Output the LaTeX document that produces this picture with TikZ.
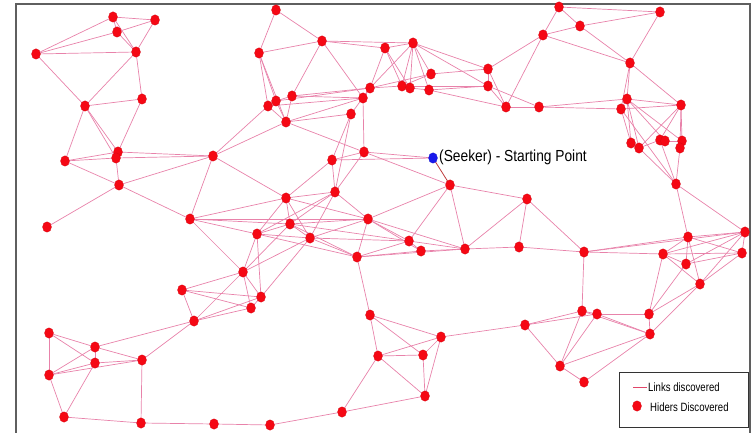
\documentclass[tikz,border=0pt]{standalone}
\usepackage{fontspec}
\newfontfamily\arialf{Liberation Sans}
\usetikzlibrary{shapes.geometric,backgrounds}
\definecolor{linkc}{RGB}{232,130,170}
\definecolor{hiderc}{RGB}{245,8,20}
\definecolor{seekc}{RGB}{25,25,235}
\definecolor{firstc}{RGB}{190,60,60}
\definecolor{legline}{RGB}{225,70,105}
\definecolor{framec}{RGB}{95,95,95}
\tikzset{
  hider/.style={ellipse,fill=hiderc,draw=hiderc!85!black,line width=0.2pt,minimum width=9pt,minimum height=10.5pt,inner sep=0pt},
  seeker/.style={ellipse,fill=seekc,draw=seekc!85!black,line width=0.2pt,minimum width=9pt,minimum height=10.5pt,inner sep=0pt},
  link/.style={draw=linkc,line width=0.7pt},
  firstlink/.style={draw=firstc,line width=0.8pt},
  legendtext/.style={anchor=west,inner sep=0pt,font=\arialf\fontsize{12}{14}\selectfont}
}
\begin{document}
\begin{tikzpicture}[x=1pt,y=-1pt]
\useasboundingbox (0,0) rectangle (753,433);
\coordinate (f1) at (16,433);
\coordinate (f2) at (16,4);
\coordinate (f3) at (750,4);
\coordinate (f4) at (750,433);
\draw[framec,line width=1.2pt] (f1) -- (f2) -- (f3) -- (f4);
\foreach \n/\x/\y in {1/113/17, 2/155/20, 3/117/32, 4/36/54, 5/136/52, 6/85/106, 7/142/99, 8/118/152, 9/116/158, 10/65/161, 11/119/185, 12/213/156, 13/47/227,
14/276/10, 15/322/41, 16/259/53, 17/385/48, 18/413/43, 19/431/74, 20/488/69, 21/488/86, 22/506/107, 23/370/88, 24/402/86, 25/410/88, 26/429/90, 27/292/96, 28/276/101, 29/268/106, 30/363/98, 31/351/114, 32/286/122, 33/364/152, 34/332/160, 35/450/185, 36/335/192, 37/286/198, 38/368/219,
39/559/7, 40/660/12, 41/580/26, 42/543/35, 43/630/63, 44/539/107, 45/627/99, 46/621/109, 47/681/105, 48/631/143, 49/639/148, 50/660/140, 51/665/141, 52/682/141, 53/680/148, 54/676/184, 55/527/199,
56/190/219, 57/290/224, 58/257/234, 59/310/238, 60/409/241, 61/421/251, 62/357/257, 63/465/249, 64/243/272, 65/182/290, 66/261/297, 67/251/308, 68/194/321,
69/519/247, 70/584/252, 71/688/237, 72/745/232, 73/663/254, 74/686/264, 75/742/253, 76/700/284,
77/370/315, 78/441/337, 79/378/356, 80/423/355, 81/425/396, 82/342/412, 83/270/425, 84/214/424, 85/141/423, 86/64/417, 87/49/333, 88/95/347, 89/95/363, 90/142/360, 91/49/375, 92/525/325, 93/582/311, 94/597/314, 95/649/314, 96/650/334, 97/560/366, 98/584/382}
  \node[hider] (n\n) at (\x,\y) {};
\node[seeker] (nS) at (433,158) {};
\node[anchor=west,inner sep=0pt,font=\arialf\fontsize{16}{18}\selectfont] (lbl) at (439,157.5) {\scalebox{0.86}[1]{(Seeker) - Starting Point}};
\begin{pgfonlayer}{background}
\foreach \a/\b in {1/2, 1/3, 1/4, 1/5, 2/3, 2/5, 3/4, 3/5, 4/5, 4/6, 5/6, 5/7, 6/7, 6/10, 6/8, 6/9, 7/8, 10/8, 10/9, 10/11, 8/12, 9/12, 9/11, 11/12, 11/56, 11/13, 12/56, 12/29, 12/32, 12/37, 8/9,
14/16, 14/15, 16/15, 15/17, 15/18, 15/27, 15/30, 16/29, 16/28, 16/32, 17/18, 17/23, 17/24, 17/25, 18/23, 18/24, 18/25, 18/26, 18/19, 18/20, 18/21, 19/23, 19/24, 19/20, 23/24, 24/25, 25/26, 26/21, 26/22, 24/21, 20/21, 20/22, 21/22, 23/27, 23/28, 30/29, 23/30, 23/31, 27/28, 28/29, 27/32, 28/32, 29/32, 27/30, 32/31, 32/30, 32/33, 31/34, 31/36, 30/33, 33/34, 34/S, 33/S, 33/35, 34/36, 34/37, 33/36, 35/38, 35/55, 35/63, 35/60,
39/40, 39/41, 39/42, 41/40, 41/43, 40/43, 42/43, 42/41, 42/20, 42/22, 22/44, 21/44, 44/45, 44/46, 45/47, 43/45, 43/46, 43/47, 45/46, 45/48, 45/49, 45/51, 45/52, 46/48, 46/47, 47/49, 47/50, 47/53, 47/52, 48/49, 49/50, 50/51, 51/52, 52/53, 49/54, 50/54, 53/54, 46/54, 54/71, 54/72, 55/63, 55/69, 55/70,
37/38, 37/56, 37/57, 37/58, 37/59, 36/57, 36/59, 36/38, 36/58, 36/37, 56/38, 56/57, 56/58, 56/64, 57/58, 57/59, 57/62, 57/60, 58/59, 58/62, 58/64, 58/66, 59/62, 59/60, 59/64, 59/66, 38/57, 38/59, 38/62, 38/60, 38/61, 38/63, 62/60, 62/61, 62/63, 60/61, 61/63, 60/63, 62/77, 63/69, 64/65, 64/66, 64/67, 64/68, 64/57, 65/66, 65/67, 65/68, 68/67, 68/66, 66/67, 68/88, 68/90,
69/70, 70/71, 70/72, 70/73, 70/93, 71/72, 71/73, 71/74, 71/75, 71/76, 72/73, 72/74, 72/75, 72/76, 73/74, 73/75, 73/76, 74/75, 75/76, 73/95, 74/95, 76/95, 76/96,
77/78, 77/79, 77/80, 79/80, 79/78, 78/80, 78/81, 80/81, 79/81, 79/82, 81/82, 82/83, 83/84, 84/85, 85/86, 78/92, 92/93, 92/94, 92/97, 93/94, 93/97, 94/97, 94/95, 94/96, 93/96, 95/96, 96/97, 96/98, 97/98, 87/88, 87/89, 87/91, 88/89, 88/90, 88/91, 89/90, 89/91, 91/90, 89/86, 91/86, 90/85}
  \draw[link] (n\a.center) -- (n\b.center);
\draw[firstlink] (nS.center) -- (n35.center);
\end{pgfonlayer}
% legend
\node[draw=black!80,line width=1pt,minimum width=129pt,minimum height=55pt,inner sep=0pt] (legend) at (683.5,399.5) {};
\coordinate (ls1) at (633,387);
\coordinate (ls2) at (647,387);
\draw[draw=legline,line width=0.9pt] (ls1) -- (ls2);
\node[legendtext] (lt1) at (648,387) {\scalebox{0.8}[1]{Links discovered}};
\node[hider] (ldot) at (637,406) {};
\node[legendtext] (lt2) at (650,407) {\scalebox{0.8}[1]{Hiders Discovered}};
\end{tikzpicture}
\end{document}
